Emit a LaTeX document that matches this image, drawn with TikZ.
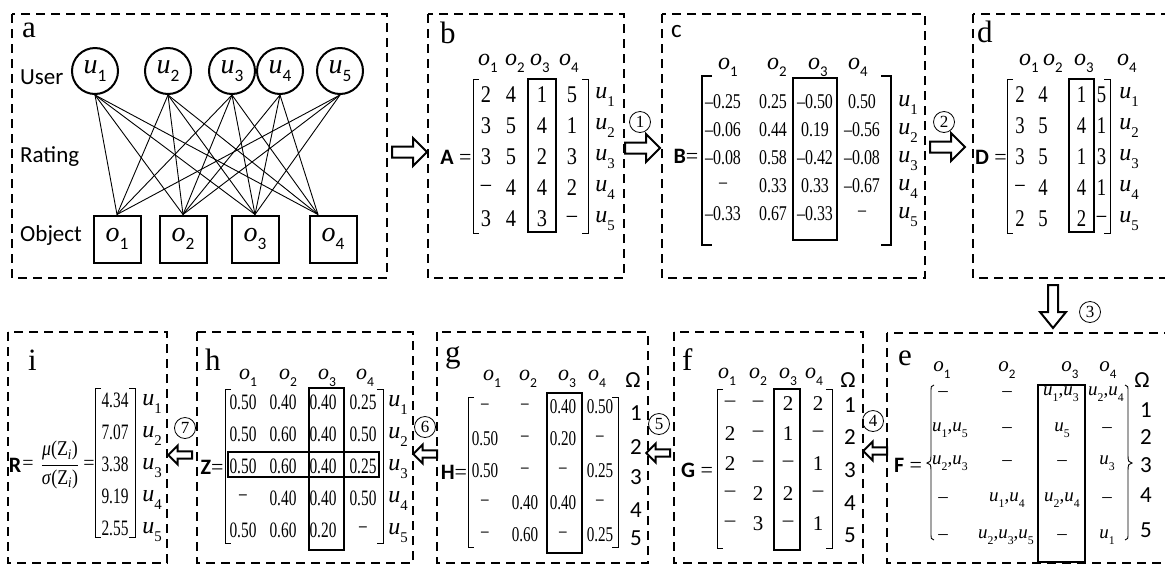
\documentclass[tikz,border=0pt]{standalone}
\usepackage{fontspec}
\setmainfont{Liberation Serif}
\newfontfamily\calib{Carlito}
\usetikzlibrary{calc}
\newcommand\fs[1]{\fontsize{#1}{#1}\selectfont}
\newcommand\osb[2]{\textit{#1}\raisebox{-0.3em}{\scalebox{0.62}{\calib #2}}}
\newcommand\usb[2]{\textit{#1}\raisebox{-0.3em}{\scalebox{0.62}{#2}}}
\newcommand\cnd[2]{\scalebox{#1}[1]{#2}}
\begin{document}
\begin{tikzpicture}[x=1pt,y=-1pt,
  panel/.style={dash pattern=on 9pt off 6pt, line width=2.2pt},
  colbox/.style={line width=1.5pt},
  brk/.style={line width=0.9pt},
  edge/.style={line width=0.9pt},
  circ/.style={circle, draw, line width=2pt, minimum size=46pt, inner sep=0pt, font=\fs{28}},
  sq/.style={rectangle, draw, line width=2pt, minimum size=47pt, inner sep=0pt, font=\fs{28}},
  plbl/.style={anchor=base west, inner sep=0pt, font=\fs{31}},
  slbl/.style={anchor=west, inner sep=0pt, font=\calib\fs{23}},
  hdr/.style={inner sep=0pt, font=\fs{24}},
  ulbl/.style={inner sep=0pt, font=\fs{24}},
  omg/.style={inner sep=0pt, font=\calib\fs{23}},
  num/.style={circle, draw, line width=0.8pt, minimum size=21pt, inner sep=0pt, font=\fs{17}},
  mname/.style={inner sep=0pt, font=\fs{22}},
  ent/.style={inner sep=0pt},
  barrow/.pic={\draw[line width=2pt, fill=white] (0,-5.5) -- (21,-5.5) -- (21,-14) -- (35,0) -- (21,14) -- (21,5.5) -- (0,5.5) -- cycle;}
]
\fill[white] (0,0) rectangle (1165,566);
\useasboundingbox (0,0) rectangle (1165,566);

% ---------- panels ----------
\draw[panel] (12,14) rectangle (387,278);
\draw[panel] (428,14) rectangle (624,278);
\draw[panel] (662,14) rectangle (925,278);
\draw[panel] (973,14) rectangle (1190,278);
\draw[panel] (8,332) rectangle (167,563);
\draw[panel] (197,332) rectangle (413,563);
\draw[panel] (437,332) rectangle (648,563);
\draw[panel] (674,332) rectangle (863,563);
\draw[panel] (887,333) rectangle (1190,563);

% ---------- panel a ----------
\node[plbl] (la) at (22,37) {a};
\node[slbl] (tu) at (20,77) {User};
\node[slbl] (tr) at (20,157) {Rating};
\node[slbl] (to) at (20,235) {Object};
\foreach \x [count=\i] in {95,168,232,280,340}
  \node[circ] (u\i) at (\x,71) {\osb{u}{\i}};
\foreach \x [count=\i] in {117,183,255,333}
  \node[sq] (o\i) at (\x,239) {\osb{o}{\i}};
\coordinate (t1) at (o1.north);
\coordinate (t2) at (o2.north);
\coordinate (t3) at (o3.north);
\coordinate (t4) at ($(o4.north)+(-15,0)$);
\foreach \a/\b in {1/1,1/2,1/3,1/4,2/1,2/2,2/3,2/4,3/1,3/2,3/3,3/4,4/2,4/3,4/4,5/1,5/2,5/3}
  \draw[edge] (u\a.south) -- (t\b);

% ---------- arrows ----------
\pic at (392,152) {barrow};
\pic at (625,148) {barrow};
\pic at (930,147) {barrow};
\draw[line width=2pt, fill=white] (1048,285) -- (1058,285) -- (1058,312) -- (1066,312) -- (1053,328) -- (1040,312) -- (1048,312) -- cycle;
\pic[rotate=180, scale=0.68] at (887,451) {barrow};
\pic[rotate=180, scale=0.68] at (670,453) {barrow};
\pic[rotate=180, scale=0.68] at (437,454) {barrow};
\pic[rotate=180, scale=0.68] at (192,455) {barrow};
\node[num] (n1) at (640,122) {1};
\node[num] (n2) at (944,122) {2};
\node[num] (n3) at (1090,312) {3};
\node[num] (n4) at (873,421) {4};
\node[num] (n5) at (659,424) {5};
\node[num] (n6) at (425,427) {6};
\node[num] (n7) at (185,428) {7};

% ---------- panel b ----------
\node[plbl] (lb) at (440,43) {b};
\foreach \x [count=\i] in {488,515,540,569}
  \node[hdr] (bh\i) at (\x,63) {\osb{o}{\i}};
\draw[brk] (479,79) -- (473,79) -- (473,233) -- (479,233);
\draw[brk] (582,79) -- (588,79) -- (588,233) -- (582,233);
\draw[colbox] (528,79) rectangle (556,232);
\foreach \row [count=\rr] in {{2,4,1,5},{3,5,4,1},{3,5,2,3},{–,4,4,2},{3,4,3,–}}{
  \foreach \val [count=\cc] in \row {
    \pgfmathsetmacro\xx{{486,511,542,572}[\cc-1]}
    \pgfmathsetmacro\yy{{95,126,157,188,219}[\rr-1]}
    \node[ent, font=\fs{24}] (b\rr\cc) at (\xx,\yy) {\cnd{0.85}{\val}};
  }
  \pgfmathsetmacro\yy{{95,126,157,188,219}[\rr-1]}
  \node[ulbl] (bu\rr) at (605,\yy+2) {\usb{u}{\rr}};
}
\node[mname] (bA) at (456,157) {{\calib\bfseries A} =};

% ---------- panel c ----------
\node[plbl, font=\calib\fs{25}] (lc) at (671,37) {c};
\foreach \x [count=\i] in {728,777,818,858}
  \node[hdr] (ch\i) at (\x,67) {\osb{o}{\i}};
\draw[line width=1.8pt] (712,76) -- (702,76) -- (702,245) -- (712,245);
\draw[line width=1.8pt] (881,76) -- (891,76) -- (891,245) -- (881,245);
\draw[colbox] (793,78) rectangle (837,240);
\foreach \row [count=\rr] in {{–0.25,0.25,–0.50,0.50},{–0.06,0.44,0.19,–0.56},{–0.08,0.58,–0.42,–0.08},{–,0.33,0.33,–0.67},{–0.33,0.67,–0.33,–}}{
  \foreach \val [count=\cc] in \row {
    \pgfmathsetmacro\xx{{723,773,815,862}[\cc-1]}
    \pgfmathsetmacro\yy{{102,130,158,186,214}[\rr-1]}
    \node[ent, font=\fs{21}] (c\rr\cc) at (\xx,\yy) {\cnd{0.76}{\val}};
  }
  \pgfmathsetmacro\yy{{102,130,158,186,214}[\rr-1]}
  \node[ulbl] (cu\rr) at (908,\yy+3) {\usb{u}{\rr}};
}
\node[mname] (cB) at (686,156) {{\calib\bfseries B}=};

% ---------- panel d ----------
\node[plbl] (ld) at (977,42) {d};
\foreach \x [count=\i] in {1029,1053,1084,1127}
  \node[hdr] (dh\i) at (\x,63) {\osb{o}{\i}};
\draw[brk] (1013,79) -- (1007,79) -- (1007,233) -- (1013,233);
\draw[brk] (1104,79) -- (1110,79) -- (1110,233) -- (1104,233);
\draw[colbox] (1069,79) rectangle (1094,232);
\foreach \row [count=\rr] in {{2,4,1,5},{3,5,4,1},{3,5,1,3},{–,4,4,1},{2,5,2,–}}{
  \foreach \val [count=\cc] in \row {
    \pgfmathsetmacro\xx{{1020,1043,1081.5,1101.5}[\cc-1]}
    \pgfmathsetmacro\yy{{95,126,157,188,219}[\rr-1]}
    \node[ent, font=\fs{24}] (d\rr\cc) at (\xx,\yy) {\cnd{0.78}{\val}};
  }
  \pgfmathsetmacro\yy{{95,126,157,188,219}[\rr-1]}
  \node[ulbl] (du\rr) at (1129,\yy+2) {\usb{u}{\rr}};
}
\node[mname] (dD) at (991,157) {{\calib\bfseries D} =};

% ---------- panel e ----------
\node[plbl] (le) at (898,365) {e};
\foreach \x [count=\i] in {942,1007,1070,1108}
  \node[hdr, font=\fs{21}] (eh\i) at (\x,370) {\osb{o}{\i}};
\node[omg] (eO) at (1142,380) {Ω};
\draw[brk] (934,385) .. controls (931,385) and (931,387) .. (931,392) -- (931,456) .. controls (931,461) and (930,463) .. (927,463) .. controls (930,463) and (931,465) .. (931,470) -- (931,533) .. controls (931,538) and (931,540) .. (934,540);
\draw[brk] (1125,385) .. controls (1128,385) and (1128,387) .. (1128,392) -- (1128,456) .. controls (1128,461) and (1129,463) .. (1132,463) .. controls (1129,463) and (1128,465) .. (1128,470) -- (1128,533) .. controls (1128,538) and (1128,540) .. (1125,540);
\draw[colbox] (1038,385) rectangle (1085,562);
\begin{scope}[every node/.style={ent, font=\fs{19}}]
\node (e11) at (943,394) {–};
\node (e12) at (1007,394) {–};
\node (e13) at (1061,394) {\usb{u}{1},\usb{u}{3}};
\node (e14) at (1106,394) {\usb{u}{2},\usb{u}{4}};
\node (e21) at (950,430) {\usb{u}{1},\usb{u}{5}};
\node (e22) at (1007,430) {–};
\node (e23) at (1062,430) {\usb{u}{5}};
\node (e24) at (1107,430) {–};
\node (e31) at (950,463) {\usb{u}{2},\usb{u}{3}};
\node (e32) at (1007,463) {–};
\node (e33) at (1062,463) {–};
\node (e34) at (1107,463) {\usb{u}{3}};
\node (e41) at (943,500) {–};
\node (e42) at (1007,500) {\usb{u}{1},\usb{u}{4}};
\node (e43) at (1062,500) {\usb{u}{2},\usb{u}{4}};
\node (e44) at (1107,500) {–};
\node (e51) at (943,537) {–};
\node (e52) at (1006,537) {\usb{u}{2},\usb{u}{3},\usb{u}{5}};
\node (e53) at (1062,537) {–};
\node (e54) at (1107,537) {\usb{u}{1}};
\end{scope}
\foreach \y [count=\i] in {410,437,465,495,530}
  \node[omg] (eo\i) at (1146,\y) {\i};
\node[mname] (eF) at (908,465) {{\calib\bfseries F} =};

% ---------- panel f ----------
\node[plbl] (lf) at (682,370) {f};
\foreach \x [count=\i] in {727,758,788,814}
  \node[hdr, font=\fs{22}] (fh\i) at (\x,377) {\osb{o}{\i}};
\node[omg] (fO) at (848,380) {Ω};
\draw[brk] (723,389) -- (717,389) -- (717,548) -- (723,548);
\draw[brk] (826,389) -- (832,389) -- (832,548) -- (826,548);
\draw[colbox] (774,389) rectangle (800,550);
\foreach \row [count=\rr] in {{–,–,2,2},{2,–,1,–},{2,–,–,1},{–,2,2,–},{–,3,–,1}}{
  \foreach \val [count=\cc] in \row {
    \pgfmathsetmacro\xx{{730,758,788,818}[\cc-1]}
    \pgfmathsetmacro\yy{{404,434,464,494,524}[\rr-1]}
    \node[ent, font=\fs{21}] (f\rr\cc) at (\xx,\yy) {\val};
  }
}
\foreach \y [count=\i] in {405,437,470,503,535}
  \node[omg] (fo\i) at (850,\y) {\i};
\node[mname] (fG) at (697,470) {{\calib\bfseries G} =};

% ---------- panel g ----------
\node[plbl] (lg) at (445,362) {g};
\foreach \x [count=\i] in {492,528,567,597}
  \node[hdr, font=\fs{22}] (gh\i) at (\x,379) {\osb{o}{\i}};
\node[omg] (gO) at (633,380) {Ω};
\draw[brk] (474,397) -- (468,397) -- (468,547) -- (474,547);
\draw[brk] (612,397) -- (618,397) -- (618,547) -- (612,547);
\draw[colbox] (547,393) rectangle (582,553);
\foreach \row [count=\rr] in {{–,–,0.40,0.50},{0.50,–,0.20,–},{0.50,–,–,0.25},{–,0.40,0.40,–},{–,0.60,–,0.25}}{
  \foreach \val [count=\cc] in \row {
    \pgfmathsetmacro\xx{{485,525,563,600}[\cc-1]}
    \pgfmathsetmacro\yy{{407,439,471,503,535}[\rr-1]}
    \node[ent, font=\fs{21}] (g\rr\cc) at (\xx,\yy) {\cnd{0.72}{\val}};
  }
}
\foreach \y [count=\i] in {413,447,477,510,538}
  \node[omg] (go\i) at (636,\y) {\i};
\node[mname] (gH) at (454,472) {{\calib\bfseries H}=};

% ---------- panel h ----------
\node[plbl] (lh) at (205,370) {h};
\foreach \x [count=\i] in {248,288,327,365}
  \node[hdr, font=\fs{22}] (hh\i) at (\x,378) {\osb{o}{\i}};
\draw[brk] (231,389) -- (225,389) -- (225,543) -- (231,543);
\draw[brk] (377,389) -- (383,389) -- (383,543) -- (377,543);
\draw[colbox] (309,388) rectangle (344,550);
\draw[colbox] (228,452) rectangle (379,477);
\foreach \row [count=\rr] in {{0.50,0.40,0.40,0.25},{0.50,0.60,0.40,0.50},{0.50,0.60,0.40,0.25},{–,0.40,0.40,0.50},{0.50,0.60,0.20,–}}{
  \foreach \val [count=\cc] in \row {
    \pgfmathsetmacro\xx{{243,283,323,363}[\cc-1]}
    \pgfmathsetmacro\yy{{402,434,466,498,530}[\rr-1]}
    \node[ent, font=\fs{22}] (h\rr\cc) at (\xx,\yy) {\cnd{0.7}{\val}};
  }
  \pgfmathsetmacro\yy{{402,434,466,498,530}[\rr-1]}
  \node[ulbl] (hu\rr) at (398,\yy+3) {\usb{u}{\rr}};
}
\node[mname] (hZ) at (212,467) {{\calib\bfseries Z}=};

% ---------- panel i ----------
\node[plbl] (li) at (28,370) {i};
\node[mname] (iR) at (15,465) {{\calib\bfseries R}};
\node[mname, font=\fs{20}] (ie1) at (28,465) {=};
\node[inner sep=0pt, font=\fs{21}] (ifr) at (60,465) {$\displaystyle\frac{\hbox{\cnd{0.85}{\textit{μ}(Z\textsubscript{\textit{i}})}}}{\hbox{\cnd{0.85}{\textit{σ}(Z\textsubscript{\textit{i}})}}}$};
\node[mname, font=\fs{20}] (ie2) at (89,465) {=};
\draw[brk] (101,388) -- (95,388) -- (95,537) -- (101,537);
\draw[brk] (129,388) -- (135,388) -- (135,537) -- (129,537);
\foreach \val [count=\rr] in {4.34,7.07,3.38,9.19,2.55}{
  \pgfmathsetmacro\yy{{400,432,464,496,528}[\rr-1]}
  \node[ent, font=\fs{22}] (i\rr) at (115,\yy) {\cnd{0.7}{\val}};
  \node[ulbl] (iu\rr) at (152,\yy+4) {\usb{u}{\rr}};
}
\end{tikzpicture}
\end{document}
